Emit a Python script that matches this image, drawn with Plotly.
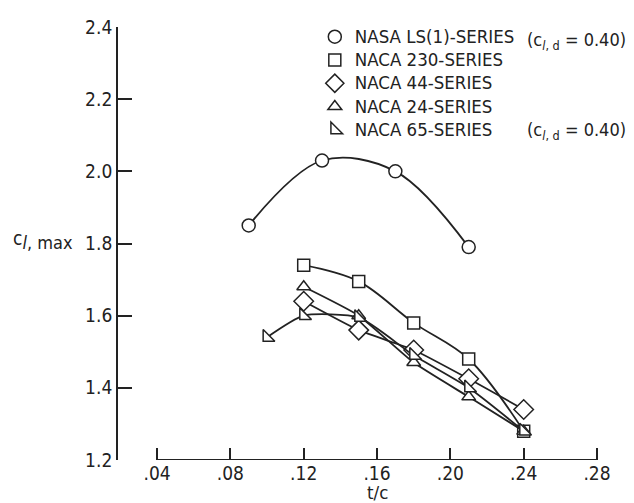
import plotly.graph_objects as go

# ---- data ----
tc_ls1 = [0.09, 0.13, 0.17, 0.21]
cl_ls1 = [1.85, 2.03, 2.00, 1.79]

tc_230 = [0.12, 0.15, 0.18, 0.21, 0.24]
cl_230 = [1.74, 1.695, 1.58, 1.48, 1.28]

tc_44 = [0.12, 0.15, 0.18, 0.21, 0.24]
cl_44 = [1.64, 1.56, 1.505, 1.425, 1.34]

tc_24 = [0.12, 0.15, 0.18, 0.21, 0.24]
cl_24 = [1.68, 1.60, 1.47, 1.375, 1.28]

tc_65 = [0.10, 0.12, 0.15, 0.18, 0.21, 0.24]
cl_65 = [1.54, 1.60, 1.595, 1.49, 1.40, 1.28]

series_names = ["NASA LS(1)-SERIES", "NACA 230-SERIES", "NACA 44-SERIES",
                "NACA 24-SERIES", "NACA 65-SERIES"]
x_ticks = [0.04, 0.08, 0.12, 0.16, 0.20, 0.24, 0.28]
x_tick_text = [".04", ".08", ".12", ".16", ".20", ".24", ".28"]
y_ticks = [1.2, 1.4, 1.6, 1.8, 2.0, 2.2, 2.4]
y_tick_text = ["1.2", "1.4", "1.6", "1.8", "2.0", "2.2", "2.4"]

INK = "#222222"
FONT = "DejaVu Sans Condensed, Liberation Sans Narrow, sans-serif"
TXT = 18.5
TICK = 19

fig = go.Figure()

specs = [
    (tc_ls1, cl_ls1, "circle", 13, 1.0),
    (tc_230, cl_230, "square", 12, 1.0),
    (tc_44, cl_44, "diamond", 15, 0.5),
    (tc_24, cl_24, "triangle-up", 12, 0.5),
    (tc_65, cl_65, "triangle-sw", 13, 0.6),
]

for (xs, ys, sym, sz, sm), name in zip(specs, series_names):
    fig.add_trace(go.Scatter(
        x=xs, y=ys, mode="lines+markers", showlegend=False,
        line=dict(color=INK, width=1.8, shape="spline", smoothing=sm),
        marker=dict(symbol=sym, size=sz, color="white",
                    line=dict(color=INK, width=1.5)),
        cliponaxis=False,
    ))

# legend-only traces (markers only)
for (xs, ys, sym, sz, sm), name in zip(specs, series_names):
    fig.add_trace(go.Scatter(
        x=[None], y=[None], mode="markers",
        name=f'<span style="font-size:{TXT}px">{name}</span>',
        marker=dict(symbol=sym, size=min(sz, 14), color="white",
                    line=dict(color=INK, width=1.5)),
    ))

# x axis baseline from .04 to .28
fig.add_shape(type="line", xref="x", yref="y",
              x0=x_ticks[0], x1=x_ticks[-1], y0=y_ticks[0], y1=y_ticks[0],
              line=dict(color=INK, width=1.8))

# page body has an 8px margin, so the figure is 8px smaller than the window
fig.update_layout(
    width=626, height=495,
    margin=dict(l=110, r=19, t=12, b=43),
    paper_bgcolor="white", plot_bgcolor="white",
    font=dict(family=FONT, color=INK, size=TXT),
    xaxis=dict(range=[0.0187, 0.2898], tickvals=x_ticks, ticktext=x_tick_text,
               ticks="inside", ticklen=12, tickwidth=1.8, tickcolor=INK,
               showline=False, showgrid=False, zeroline=False,
               tickfont=dict(size=TICK), automargin=False),
    yaxis=dict(range=[1.2, 2.4], tickvals=y_ticks, ticktext=y_tick_text,
               ticks="inside", ticklen=14, tickwidth=1.8, tickcolor=INK,
               showline=True, linecolor=INK, linewidth=1.8,
               showgrid=False, zeroline=False, tickfont=dict(size=TICK),
               automargin=False),
    legend=dict(x=0.396, y=1.016, xanchor="left", yanchor="top",
                bgcolor="rgba(0,0,0,0)", font=dict(size=15.6),
                itemwidth=30, tracegroupgap=0),
    showlegend=True,
)

note = "(c<sub><i>l</i>, d</sub> = 0.40)"
fig.add_annotation(xref="paper", yref="paper", x=1.026, y=(460 - 34) / 440,
                   xanchor="right", yanchor="middle", showarrow=False,
                   text=note, font=dict(size=18))
fig.add_annotation(xref="paper", yref="paper", x=1.026, y=(460 - 126) / 440,
                   xanchor="right", yanchor="middle", showarrow=False,
                   text=note, font=dict(size=18))

fig.add_annotation(xref="paper", yref="y", x=-0.215, y=1.81,
                   xanchor="left", yanchor="middle", showarrow=False,
                   text='c<sub><span style="font-size:18px"><i>l</i>, max</span></sub>',
                   font=dict(size=19))
fig.add_annotation(xref="x", yref="paper", x=0.16, y=-0.047,
                   xanchor="center", yanchor="top", showarrow=False,
                   text="t/c", font=dict(size=TXT))

fig.write_html("out.html")
